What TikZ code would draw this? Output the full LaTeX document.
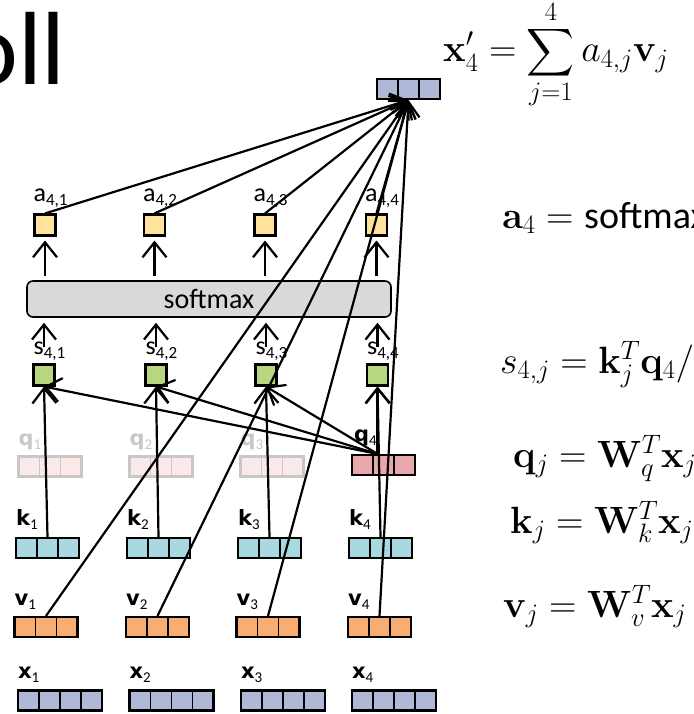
\RequirePackage{fix-cm}
\documentclass[tikz,border=0pt]{standalone}
\usepackage{amsmath}
\usepackage{graphicx}
\usepackage[no-math]{fontspec}
\setmainfont{Carlito}
\newfontfamily\dvs{DejaVu Sans}
\usetikzlibrary{arrows.meta,calc}
\definecolor{xcol}{RGB}{176,184,216}
\definecolor{vcol}{RGB}{248,173,115}
\definecolor{kcol}{RGB}{168,216,224}
\definecolor{qcol}{RGB}{232,167,170}
\definecolor{qfade}{RGB}{251,233,234}
\definecolor{qgray}{RGB}{200,200,200}
\definecolor{scol}{RGB}{184,214,128}
\definecolor{acol}{RGB}{255,226,156}
\definecolor{smcol}{RGB}{217,217,217}
\newcommand\vlab[2]{{\fontsize{21}{21}\selectfont\dvs\bfseries #1}{\fontsize{15}{15}\selectfont\raisebox{-4pt}{#2}}}
\newcommand\plab[2]{{\fontsize{26}{26}\selectfont #1}{\fontsize{17}{17}\selectfont\raisebox{-4pt}{#2}}}
\newcommand\bigsum{\mathop{\vcenter{\hbox{\resizebox{48pt}{!}{$\displaystyle\sum$}}}}\limits}
\tikzset{
  vec/.style={draw=#1, line width=2.1pt, inner sep=0pt, minimum height=20pt},
  three/.style={minimum width=63pt, path picture={
    \foreach \f in {0.3333,0.6667}{\draw[#1,line width=1.6pt]
      ($(path picture bounding box.south west)!\f!(path picture bounding box.south east)$) --
      ($(path picture bounding box.north west)!\f!(path picture bounding box.north east)$);}}},
  four/.style={minimum width=84pt, path picture={
    \foreach \f in {0.25,0.5,0.75}{\draw[#1,line width=1.6pt]
      ($(path picture bounding box.south west)!\f!(path picture bounding box.south east)$) --
      ($(path picture bounding box.north west)!\f!(path picture bounding box.north east)$);}}},
  sq/.style={draw, line width=2.1pt, fill=#1, minimum size=21pt, inner sep=0pt},
  lbl/.style={anchor=base west, inner sep=0pt},
  eqn/.style={anchor=base west, inner sep=0pt, font=\fontsize{38}{46}\selectfont},
  conn/.style={line width=2.2pt, -{Straight Barb[length=15pt,width=24pt,line width=2.2pt]}},
}
\begin{document}
\begin{tikzpicture}[x=1pt,y=-1pt]
\useasboundingbox (0,0) rectangle (693,714);
\clip (0,0) rectangle (693,714);

\node[lbl, font=\fontsize{104}{104}\selectfont] (title) at (-37,85) {oll};

% x vectors
\foreach \i/\cx in {1/60,2/171.5,3/283,4/394}{
  \node[vec=black, fill=xcol, four=black] (x\i) at (\cx,700.5) {};
  \node[lbl] (lx\i) at ([xshift=1pt,yshift=11pt]x\i.north west) {\vlab{x}{\i}};
}
% v vectors
\foreach \i/\cx in {1/46,2/157.5,3/268,4/379.5}{
  \node[vec=black, fill=vcol, three=black] (v\i) at (\cx,627) {};
  \node[lbl] (lv\i) at ([xshift=1pt,yshift=10pt]v\i.north west) {\vlab{v}{\i}};
}
% k vectors
\foreach \i/\cx in {1/47.5,2/158.5,3/269.5,4/380.5}{
  \node[vec=black, fill=kcol, three=black] (k\i) at (\cx,548) {};
  \node[lbl] (lk\i) at ([xshift=1pt,yshift=11pt]k\i.north west) {\vlab{k}{\i}};
}
% q vectors
\foreach \i/\cx in {1/50,2/161,3/272}{
  \node[vec=qgray, fill=qfade, three=qgray] (q\i) at (\cx,466.5) {};
  \node[lbl, text=qgray] (lq\i) at ([xshift=1pt,yshift=10pt]q\i.north west) {\vlab{q}{\i}};
}
\node[vec=black, fill=qcol, three=black] (q4) at (383.5,465) {};
\node[lbl] (lq4) at ([xshift=3pt,yshift=12pt]q4.north west) {\vlab{q}{4}};

% scores
\foreach \i/\cx in {1/44,2/156,3/266,4/377.5}{
  \node[sq=scol] (s\i) at (\cx,375) {};
  \node[lbl] (ls\i) at ([xshift=1pt,yshift=9pt]s\i.north west) {\plab{s}{4,\i}};
}
% softmax
\node[draw, line width=1.6pt, fill=smcol, rounded corners=6pt, minimum width=364pt,
      minimum height=36pt, inner sep=0pt, font=\fontsize{28}{28}\selectfont] (sm) at (209,299) {softmax};
% attention weights
\foreach \i/\cx in {1/45,2/154.5,3/265,4/376.5}{
  \node[sq=acol] (a\i) at (\cx,225) {};
  \node[lbl] (la\i) at ([xshift=0pt,yshift=12pt]a\i.north west) {\plab{a}{4,\i}};
}
% output
\node[vec=black, fill=xcol, three=black] (out) at (408.5,89) {};

% equations
\node[eqn] (eq1) at (443,62) {$\displaystyle \mathbf{x}'_4 = \bigsum_{j=1}^{4} a_{4,j}\mathbf{v}_j$};
\node[eqn] (eq2) at (502,228) {$\mathbf{a}_4 = \text{softmax}(\mathbf{s}_4)$};
\node[eqn] (eq3) at (500,373) {$s_{4,j} = \mathbf{k}_j^T\mathbf{q}_4/\sqrt{d}$};
\node[eqn] (eq4) at (513,467) {$\mathbf{q}_j = \mathbf{W}_q^T\mathbf{x}_j$};
\node[eqn] (eq5) at (510,533) {$\mathbf{k}_j = \mathbf{W}_k^T\mathbf{x}_j$};
\node[eqn] (eq6) at (503,617) {$\mathbf{v}_j = \mathbf{W}_v^T\mathbf{x}_j$};

% connectors
\foreach \i in {1,2,3,4}{
  \draw[conn] (k\i.north) -- (s\i.south);
  \draw[conn] ([xshift=-6pt]q4.north) -- (s\i.south);
  \draw[conn, shorten <=16pt, shorten >=5pt] (s\i.north) -- (s\i.north |- sm.south);
  \draw[conn, shorten <=4pt, shorten >=4pt] (a\i.south |- sm.north) -- (a\i.south);
  \draw[conn] (a\i.north) -- (out.south);
  \draw[conn] (v\i.north) -- (out.south);
}
\end{tikzpicture}
\end{document}
